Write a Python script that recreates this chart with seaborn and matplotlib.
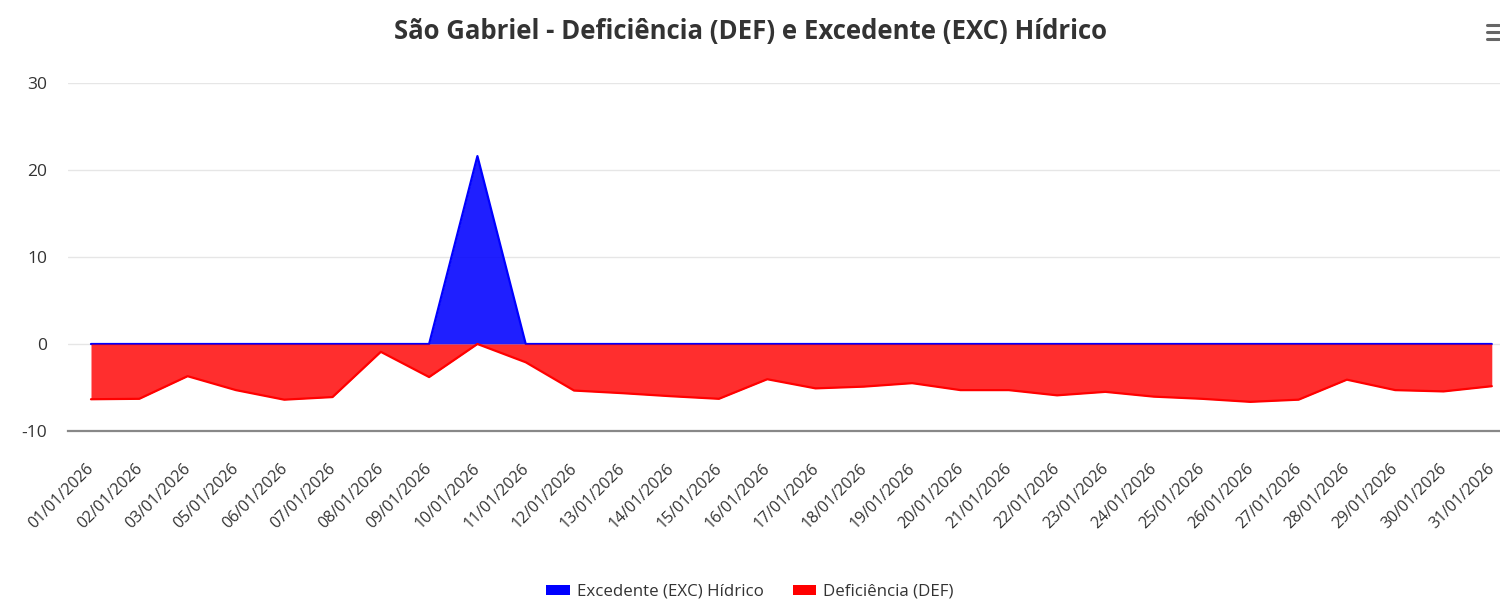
import matplotlib
matplotlib.use('Agg')
import matplotlib.pyplot as plt
import matplotlib.transforms as mtransforms
import seaborn as sns
import numpy as np
from matplotlib.patches import Patch
from matplotlib.lines import Line2D

# Data
dates = ['01/01/2026', '02/01/2026', '03/01/2026', '05/01/2026', '06/01/2026',
         '07/01/2026', '08/01/2026', '09/01/2026', '10/01/2026', '11/01/2026',
         '12/01/2026', '13/01/2026', '14/01/2026', '15/01/2026', '16/01/2026',
         '17/01/2026', '18/01/2026', '19/01/2026', '20/01/2026', '21/01/2026',
         '22/01/2026', '23/01/2026', '24/01/2026', '25/01/2026', '26/01/2026',
         '27/01/2026', '28/01/2026', '29/01/2026', '30/01/2026', '31/01/2026']
exc_vals = [0, 0, 0, 0, 0, 0, 0, 0, 21.6, 0,
            0, 0, 0, 0, 0, 0, 0, 0, 0, 0,
            0, 0, 0, 0, 0, 0, 0, 0, 0, 0]
def_vals = [-6.35, -6.3, -3.7, -5.3, -6.4, -6.1, -0.9, -3.8, 0.0, -2.1,
            -5.35, -5.65, -6.0, -6.3, -4.05, -5.1, -4.9, -4.5, -5.3, -5.3,
            -5.9, -5.5, -6.05, -6.3, -6.65, -6.4, -4.1, -5.3, -5.45, -4.85]

sns.set_style("white")
plt.rcParams['font.family'] = ['Open Sans', 'DejaVu Sans']
plt.rcParams['axes.unicode_minus'] = False

fig = plt.figure(figsize=(15, 6.03), dpi=100)
ax = fig.add_axes([68/1500, 1 - 431/603, (1500 - 68)/1500, (431 - 83)/603])

x = np.arange(len(dates))

# Excedente (blue) first, Deficiência (red) on top
ax.fill_between(x, exc_vals, 0, color='#0000ff', alpha=0.88, linewidth=0, zorder=2)
sns.lineplot(x=x, y=exc_vals, color='#0000ff', linewidth=1.6, ax=ax, zorder=3)
ax.fill_between(x, def_vals, 0, color='#ff0000', alpha=0.82, linewidth=0, zorder=4)
sns.lineplot(x=x, y=def_vals, color='#ff0000', linewidth=1.6, ax=ax, zorder=5)

ax.set_xlim(-0.476, 29.17)
ax.set_ylim(-10, 30)
ax.set_yticks([-10, 0, 10, 20, 30])
ax.set_xticks(x)
ax.set_xticklabels(dates, rotation=45, ha='right', rotation_mode='anchor',
                   fontsize=11.5, color='#333333')
ax.tick_params(axis='x', length=0, pad=20)
ax.tick_params(axis='y', length=0, pad=15, labelsize=12.5, labelcolor='#333333')

# nudge rotated labels so their end sits on the tick
shift = mtransforms.ScaledTranslation(-5/100, -2/100, fig.dpi_scale_trans)
for lbl in ax.get_xticklabels():
    lbl.set_transform(lbl.get_transform() + shift)

ax.grid(axis='y', color='#e6e6e6', linewidth=1)
ax.grid(axis='x', visible=False)
for side in ['top', 'right', 'left']:
    ax.spines[side].set_visible(False)
ax.spines['bottom'].set_color('#888888')
ax.spines['bottom'].set_linewidth(1.6)
ax.spines['bottom'].set_zorder(6)
ax.set_xlabel('')
ax.set_ylabel('')

fig.text(0.5, 1 - 31/603, 'São Gabriel - Deficiência (DEF) e Excedente (EXC) Hídrico',
         ha='center', va='center', fontsize=18.5, fontweight='bold', color='#333333')

handles = [Patch(facecolor='#0000ff', edgecolor='none', label='Excedente (EXC) Hídrico'),
           Patch(facecolor='#ff0000', edgecolor='none', label='Deficiência (DEF)')]
fig.legend(handles=handles, loc='center', bbox_to_anchor=(0.5, 1 - 592/603), ncol=2,
           frameon=False, fontsize=12.2, handlelength=1.4, handleheight=0.45,
           handletextpad=0.4, columnspacing=1.7, labelcolor='#333333')

# menu icon top right
for yy in [25, 32, 39]:
    fig.add_artist(Line2D([1487/1500, 1499/1500], [1 - yy/603, 1 - yy/603],
                          color='#666666', linewidth=2.2, transform=fig.transFigure))

fig.savefig('out.png', dpi=100)
